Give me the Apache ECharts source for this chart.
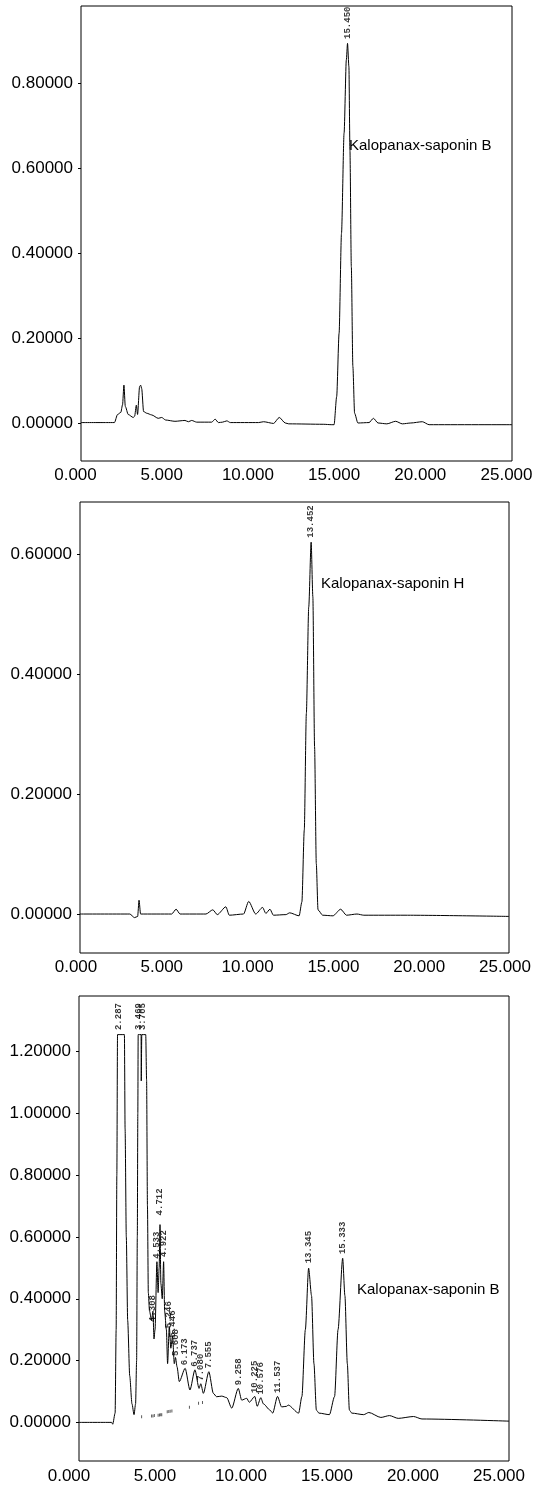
<!DOCTYPE html>
<html>
<head>
<meta charset="utf-8">
<title>HPLC chromatograms</title>
<script src="https://cdn.jsdelivr.net/npm/echarts@6.0.0/dist/echarts.min.js"></script>
<style>
    html, body { margin: 0; padding: 0; background: #fff; }
    #main { width: 538px; height: 1488px; }
</style>
</head>
<body>
<div id="main"></div>
<script type="text/javascript">
    // retention time (min), absorbance (AU)
    var trace1 = [
        [0, 0.001], [1.5, 0.001], [1.94, 0.001], [2.12, 0.02], [2.31, 0.025], [2.41, 0.043], [2.49, 0.089],
        [2.57, 0.039], [2.74, 0.02], [3.03, 0.013], [3.11, 0.016], [3.21, 0.042], [3.28, 0.02], [3.4, 0.086],
        [3.46, 0.089], [3.52, 0.081], [3.63, 0.027], [3.81, 0.023], [4.1, 0.019], [4.48, 0.011], [4.68, 0.013],
        [4.91, 0.007], [5.45, 0.004], [6.03, 0.006], [6.23, 0.003], [6.42, 0.006], [6.71, 0.002], [7.58, 0.002],
        [7.78, 0.009], [7.97, 0.001], [8.21, 0.002], [8.46, 0.005], [8.66, 0.001], [10.3, 0.001], [10.59, 0.003],
        [11.17, -0.001], [11.5, 0.013], [11.85, 0.0], [12.05, -0.002], [14.05, -0.003], [14.55, -0.004], [14.68, -0.004],
        [14.83, 0.062], [14.97, 0.211], [15.11, 0.446], [15.26, 0.682], [15.39, 0.854], [15.46, 0.893], [15.54, 0.838],
        [15.6, 0.642], [15.68, 0.368], [15.77, 0.133], [15.87, 0.023], [16.06, 0.0], [16.71, 0.001], [16.96, 0.011],
        [17.23, 0.0], [17.74, -0.002], [18.25, 0.004], [18.64, -0.002], [19.13, 0.0], [19.8, 0.003], [20.19, -0.004],
        [25, -0.004]
    ];
    var trace2 = [
        [0, 0], [2.9, 0], [3.18, -0.006], [3.36, -0.004], [3.44, 0.023], [3.53, 0.0], [5.34, 0.0], [5.6, 0.008],
        [5.83, 0.0], [7.34, 0.0], [7.74, 0.007], [8.0, -0.001], [8.5, 0.012], [8.7, -0.002], [9.53, 0.0], [9.83, 0.021],
        [10.24, 0.0], [10.64, 0.011], [10.83, 0.001], [11.07, 0.008], [11.27, -0.002], [12.0, -0.001], [12.22, 0.002],
        [12.77, -0.003], [12.93, 0.02], [13.07, 0.14], [13.19, 0.334], [13.33, 0.512], [13.47, 0.62], [13.57, 0.529],
        [13.67, 0.279], [13.77, 0.084], [13.87, 0.007], [14.14, -0.002], [14.74, -0.003], [15.19, 0.008],
        [15.53, -0.002], [16.14, 0.0], [16.54, -0.002], [18.94, -0.002], [25, -0.004]
    ];
    var trace3 = [
        [0, 0.0], [1.9, 0.0], [1.96, -0.006], [2.1, 0.03], [2.16, 0.3], [2.2, 0.8], [2.24, 1.255], [2.64, 1.255],
        [2.68, 0.95], [2.75, 0.6], [2.83, 0.33], [2.95, 0.15], [3.08, 0.06], [3.2, 0.025], [3.29, 0.06], [3.35, 0.2],
        [3.39, 0.6], [3.42, 1.0], [3.44, 1.255], [3.61, 1.255], [3.62, 1.105], [3.64, 1.105], [3.65, 1.255],
        [3.88, 1.255], [3.93, 1.108], [3.98, 0.7], [4.03, 0.42], [4.1, 0.36], [4.22, 0.33], [4.3, 0.36], [4.36, 0.27],
        [4.42, 0.3], [4.53, 0.52], [4.6, 0.42], [4.66, 0.5], [4.71, 0.64], [4.76, 0.45], [4.84, 0.4], [4.92, 0.52],
        [4.98, 0.36], [5.08, 0.3], [5.15, 0.19], [5.25, 0.31], [5.34, 0.24], [5.44, 0.28], [5.54, 0.19], [5.61, 0.21],
        [5.7, 0.18], [5.83, 0.132], [6.17, 0.175], [6.45, 0.105], [6.74, 0.17], [6.98, 0.11], [7.08, 0.125],
        [7.23, 0.094], [7.55, 0.164], [7.81, 0.094], [8.0, 0.083], [8.3, 0.085], [8.59, 0.08], [8.88, 0.046],
        [9.26, 0.11], [9.46, 0.072], [9.75, 0.078], [9.9, 0.065], [10.22, 0.084], [10.36, 0.052], [10.57, 0.08],
        [10.72, 0.06], [11.1, 0.04], [11.26, 0.03], [11.54, 0.084], [11.78, 0.05], [12.07, 0.052], [12.16, 0.056],
        [12.77, 0.03], [12.96, 0.084], [13.16, 0.3], [13.35, 0.499], [13.52, 0.41], [13.66, 0.19], [13.8, 0.04],
        [13.95, 0.03], [14.56, 0.025], [14.86, 0.084], [15.06, 0.3], [15.33, 0.531], [15.46, 0.41], [15.6, 0.19],
        [15.72, 0.04], [15.86, 0.03], [16.55, 0.025], [16.85, 0.032], [17.55, 0.016], [18.05, 0.022], [18.56, 0.013],
        [19.45, 0.019], [19.94, 0.011], [25, 0.004]
    ];

    // peak labels: [time, height of label foot, text]
    var peaks1 = [[15.45, 0.9, '15.450']];
    var peaks2 = [[13.452, 0.625, '13.452']];
    var peaks3 = [
        [2.287, 1.265, '2.287'], [3.469, 1.265, '3.469'], [3.705, 1.265, '3.705'], [4.308, 0.32, '4.308'],
        [4.533, 0.525, '4.533'], [4.712, 0.665, '4.712'], [4.922, 0.53, '4.922'], [5.246, 0.3, '5.246'],
        [5.446, 0.27, '5.446'], [5.608, 0.21, '5.608'], [6.173, 0.18, '6.173'], [6.737, 0.175, '6.737'],
        [7.08, 0.13, '7.080'], [7.555, 0.17, '7.555'], [9.258, 0.115, '9.258'], [10.225, 0.09, '10.225'],
        [10.576, 0.085, '10.576'], [11.537, 0.09, '11.537'], [13.345, 0.51, '13.345'], [15.333, 0.54, '15.333']
    ];
    // integration baseline ticks and the event circle on panel 3
    var baseTicks3 = [
        [3.64, 0.018], [4.22, 0.021], [4.3, 0.021], [4.38, 0.022], [4.6, 0.023], [4.68, 0.024], [4.75, 0.025],
        [4.81, 0.025], [5.13, 0.034], [5.22, 0.035], [5.3, 0.036], [5.4, 0.037], [6.42, 0.049], [6.95, 0.062],
        [7.18, 0.064]
    ];
    var events3 = [[3.38, 0.23]];

    var xTicks = [0, 5, 10, 15, 20, 25];
    var yTicks1 = [0, 0.2, 0.4, 0.6, 0.8];
    var yTicks2 = [0, 0.2, 0.4, 0.6];
    var yTicks3 = [0, 0.2, 0.4, 0.6, 0.8, 1.0, 1.2];

    var FONT = 'Liberation Sans, Arial, sans-serif';

    // shift: how far the printed labels sit left of their ticks (scan offset)
    function xAxis(idx, shift, margin) {
        return {
            gridIndex: idx, type: 'value', min: 0, max: 25, interval: 5,
            axisLine: {show: false, onZero: false},
            axisTick: {show: false},
            splitLine: {show: false},
            axisLabel: {
                color: '#000', fontFamily: FONT, fontSize: 17, margin: margin,
                customValues: xTicks,
                padding: [0, shift * 2, 0, 0],
                formatter: function (v) { return v.toFixed(3); }
            }
        };
    }
    function yAxis(idx, min, max, ticks) {
        return {
            gridIndex: idx, type: 'value', min: min, max: max,
            axisLine: {show: false, onZero: false},
            axisTick: {show: true, length: 3, customValues: ticks, lineStyle: {color: '#000'}},
            splitLine: {show: false},
            axisLabel: {
                color: '#000', fontFamily: FONT, fontSize: 17, margin: 8,
                customValues: ticks,
                formatter: function (v) { return v.toFixed(5); }
            }
        };
    }
    function trace(idx, data) {
        return {
            type: 'line', xAxisIndex: idx, yAxisIndex: idx, data: data,
            symbol: 'none', smooth: 0.25, smoothMonotone: 'x',
            lineStyle: {color: '#000', width: 1}, silent: true, animation: false
        };
    }
    function peakLabels(idx, data) {
        return {
            type: 'scatter', xAxisIndex: idx, yAxisIndex: idx, data: data,
            symbol: 'circle', symbolSize: 1, itemStyle: {color: 'rgba(0,0,0,0)'},
            silent: true, animation: false,
            label: {
                show: true, position: 'top', distance: 1, rotate: 90,
                align: 'left', verticalAlign: 'middle',
                fontFamily: 'Liberation Mono, Courier New, monospace', fontWeight: 'bold',
                fontSize: 9, color: '#000',
                formatter: function (p) { return p.value[2]; }
            }
        };
    }

    var myChart = echarts.init(document.getElementById('main'), null, {renderer: 'canvas'});
    myChart.setOption({
        backgroundColor: '#fff',
        animation: false,
        grid: [
            {left: 81, top: 6, width: 431, height: 455, show: true, borderColor: '#000', borderWidth: 1},
            {left: 80, top: 502, width: 429, height: 451, show: true, borderColor: '#000', borderWidth: 1},
            {left: 79, top: 996, width: 430, height: 465, show: true, borderColor: '#000', borderWidth: 1}
        ],
        xAxis: [xAxis(0, 5.5, 6), xAxis(1, 4, 6), xAxis(2, 10, 7)],
        yAxis: [
            yAxis(0, -0.0894, 0.981, yTicks1),
            yAxis(1, -0.065, 0.687, yTicks2),
            yAxis(2, -0.125, 1.38, yTicks3)
        ],
        graphic: [
            {type: 'text', left: 349, top: 138, style: {text: 'Kalopanax-saponin B', font: '15px ' + FONT, fill: '#000'}},
            {type: 'text', left: 321, top: 576, style: {text: 'Kalopanax-saponin H', font: '15px ' + FONT, fill: '#000'}},
            {type: 'text', left: 357, top: 1282, style: {text: 'Kalopanax-saponin B', font: '15px ' + FONT, fill: '#000'}}
        ],
        series: [
            trace(0, trace1),
            trace(1, trace2),
            trace(2, trace3),
            peakLabels(0, peaks1),
            peakLabels(1, peaks2),
            peakLabels(2, peaks3),
            {
                type: 'scatter', xAxisIndex: 2, yAxisIndex: 2, data: baseTicks3,
                symbol: 'rect', symbolSize: [1, 3], itemStyle: {color: '#333'},
                silent: true, animation: false
            },
            {
                type: 'scatter', xAxisIndex: 2, yAxisIndex: 2, data: events3,
                symbol: 'emptyCircle', symbolSize: 6,
                itemStyle: {color: '#fff', borderColor: '#444', borderWidth: 0.8},
                silent: true, animation: false
            }
        ]
    });
</script>
</body>
</html>
